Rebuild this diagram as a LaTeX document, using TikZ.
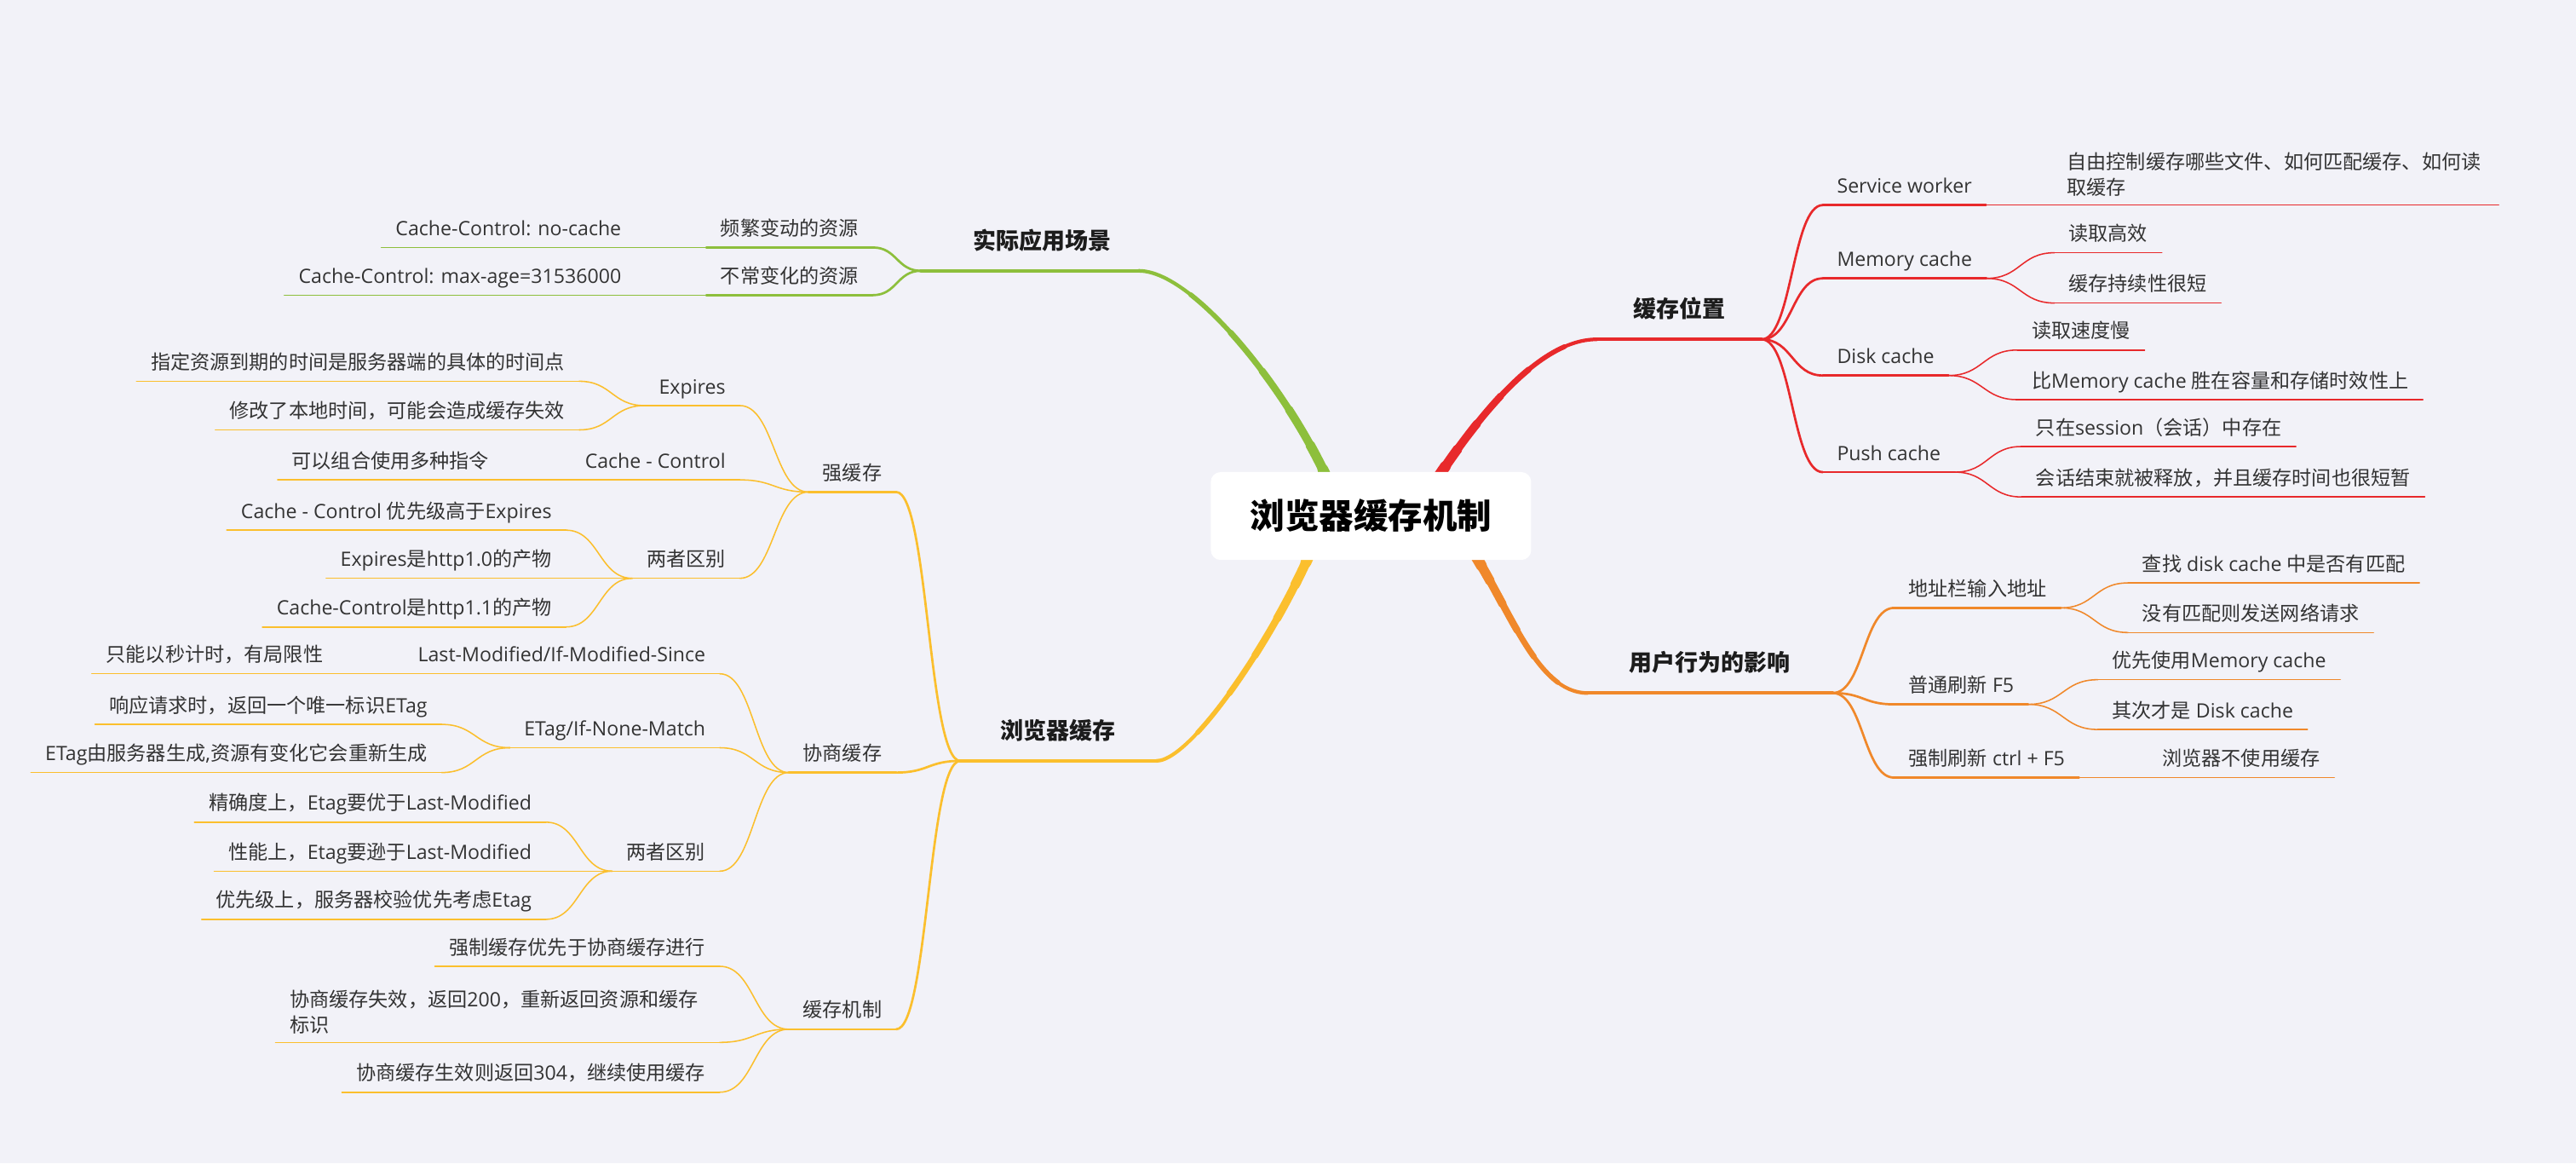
\documentclass[tikz,border=0pt]{standalone}
\usepackage{fontspec}
\setmainfont{Noto Sans CJK SC}
\newfontfamily\lat{Open Sans}
\newcommand\la[1]{{\lat #1}}
\usetikzlibrary{calc}
\definecolor{bgc}{HTML}{F2F2F8}
\definecolor{redc}{HTML}{E8292B}
\definecolor{orac}{HTML}{F0882A}
\definecolor{yelc}{HTML}{FBBF2D}
\definecolor{grnc}{HTML}{8DBF3C}
\definecolor{txt}{HTML}{333333}
\definecolor{maintxt}{HTML}{1C1C1C}
\begin{document}
\begin{tikzpicture}[x=1pt,y=-1pt,
 base/.style={inner xsep=8.5pt, inner ysep=4pt, text height=9pt, text depth=3pt, text=txt, font=\fontsize{12}{15.5}\selectfont},
 rn/.style={base, anchor=south west},
 ln/.style={base, anchor=south east},
 two/.style={text height=, text depth=, inner ysep=5pt, align=left, text width=#1},
 topic/.style={anchor=south, inner xsep=0pt, inner ysep=10pt, text height=11pt, text depth=3pt, text=maintxt, font=\bfseries\fontsize{14}{17}\selectfont},
 sc/.style={to path={.. controls ($(\tikztostart)!0.5!(\tikztostart-|\tikztotarget)$) and ($(\tikztotarget)!0.5!(\tikztotarget-|\tikztostart)$) .. (\tikztotarget) \tikztonodes}},
 lv1/.style={line width=2.2pt, line cap=round},
 lv2/.style={line width=1.4pt, line cap=round},
 lv3/.style={line width=0.8pt, line cap=round},
 taper/.style n args={7}{draw=#1, line width=2.2pt, line cap=round,
   postaction={draw=#1, line width=2.9pt, line cap=round, dash pattern=on #7pt off 3000pt},
   postaction={draw=#1, line width=3.6pt, line cap=round, dash pattern=on #6pt off 3000pt},
   postaction={draw=#1, line width=4.3pt, line cap=round, dash pattern=on #5pt off 3000pt},
   postaction={draw=#1, line width=5pt, line cap=round, dash pattern=on #4pt off 3000pt},
   postaction={draw=#1, line width=5.8pt, line cap=round, dash pattern=on #3pt off 3000pt},
   postaction={draw=#1, line width=6.6pt, line cap=round, dash pattern=on #2pt off 3000pt}}
]
\fill[bgc] (0,0) rectangle (1568,708);
\useasboundingbox (0,0) rectangle (1568,708);

% ---------- main topics ----------
\node[topic, minimum width=100pt] (R0) at (1022,206.5) {缓存位置};
\node[topic, minimum width=148.8pt] (O0) at (1040.9,421.7) {用户行为的影响};
\node[topic, minimum width=132.2pt] (G0) at (626.9,164.8) {\hspace{15pt}实际应用场景};
\node[topic, minimum width=119pt] (Y0) at (644.2,463) {浏览器缓存};

% ---------- red: 缓存位置 ----------
\node[rn] (R1) at (1109.5,124.8) {\la{Service worker}};
\node[rn, two=254pt] (R1a) at (1249.5,124.8) {自由控制缓存哪些文件、如何匹配缓存、如何读\\取缓存};
\node[rn] (R2) at (1109.5,169.4) {\la{Memory cache}};
\node[rn] (R2a) at (1250.5,153.8) {读取高效};
\node[rn] (R2b) at (1250.5,184.4) {缓存持续性很短};
\node[rn] (R3) at (1109.5,228.5) {\la{Disk cache}};
\node[rn] (R3a) at (1228,213) {读取速度慢};
\node[rn] (R3b) at (1228,243.2) {比\la{Memory cache }胜在容量和存储时效性上};
\node[rn] (R4) at (1109.5,287.3) {\la{Push cache}};
\node[rn] (R4a) at (1230.5,271.7) {只在\la{session}（会话）中存在};
\node[rn] (R4b) at (1230.5,302.4) {会话结束就被释放，并且缓存时间也很短暂};

% ---------- orange: 用户行为的影响 ----------
\node[rn] (O1) at (1153,369.9) {地址栏输入地址};
\node[rn] (O1a) at (1295.3,354.7) {查找\la{ disk cache }中是否有匹配};
\node[rn] (O1b) at (1295.3,384.9) {没有匹配则发送网络请求};
\node[rn] (O2) at (1153,428.6) {普通刷新\la{ F5}};
\node[rn] (O2a) at (1276.9,413.6) {优先使用\la{Memory cache}};
\node[rn] (O2b) at (1276.9,443.9) {其次才是\la{ Disk cache}};
\node[rn] (O3) at (1153,473.2) {强制刷新\la{ ctrl + F5}};
\node[rn] (O3a) at (1307.5,473.2) {浏览器不使用缓存};

% ---------- green: 实际应用场景 ----------
\node[ln] (G1) at (531.3,150.6) {频繁变动的资源};
\node[ln] (G1a) at (386.8,150.6) {\la{Cache-Control: no-cache}};
\node[ln] (G2) at (531.3,179.6) {不常变化的资源};
\node[ln] (G2a) at (386.8,179.6) {\la{Cache-Control: max-age=31536000}};

% ---------- yellow: 浏览器缓存 ----------
\node[ln] (Y1) at (545.5,299.4) {强缓存};
\node[ln] (Y1a) at (450.3,246.8) {\la{Expires}};
\node[ln] (Y1a1) at (352.5,232) {指定资源到期的时间是服务器端的具体的时间点};
\node[ln] (Y1a2) at (352.5,261.6) {修改了本地时间，可能会造成缓存失效};
\node[ln] (Y1b) at (450.3,292) {\la{Cache - Control}};
\node[ln] (Y1b1) at (306.4,292) {可以组合使用多种指令};
\node[ln] (Y1c) at (450.3,351.9) {两者区别};
\node[ln] (Y1c1) at (344.5,322.6) {\la{Cache - Control }优先级高于\la{Expires}};
\node[ln] (Y1c2) at (344.5,351.9) {\la{Expires}是\la{http1.0}的产物};
\node[ln] (Y1c3) at (344.5,381.5) {\la{Cache-Control}是\la{http1.1}的产物};

\node[ln] (Y2) at (545.5,470.1) {协商缓存};
\node[ln] (Y2a) at (438.1,410) {\la{Last-Modified/If-Modified-Since}};
\node[ln] (Y2a1) at (205.3,410) {只能以秒计时，有局限性};
\node[ln] (Y2b) at (438.1,455) {\la{ETag/If-None-Match}};
\node[ln] (Y2b1) at (268.8,440.8) {响应请求时，返回一个唯一标识\la{ETag}};
\node[ln] (Y2b2) at (268.8,470.1) {\la{ETag}由服务器生成\la{,}资源有变化它会重新生成};
\node[ln] (Y2c) at (438.1,530.1) {两者区别};
\node[ln] (Y2c1) at (332.3,500.3) {精确度上，\la{Etag}要优于\la{Last-Modified}};
\node[ln] (Y2c2) at (332.3,530.1) {性能上，\la{Etag}要逊于\la{Last-Modified}};
\node[ln] (Y2c3) at (332.3,559.4) {优先级上，服务器校验优先考虑\la{Etag}};

\node[ln] (Y3) at (545.5,626.3) {缓存机制};
\node[ln] (Y3a) at (438.1,588) {强制缓存优先于协商缓存进行};
\node[ln, two=253pt] (Y3b) at (438.1,634.3) {协商缓存失效，返回\la{200}，重新返回资源和缓存\\标识};
\node[ln] (Y3c) at (438.1,664.6) {协商缓存生效则返回\la{304}，继续使用缓存};

% ---------- main branch curves (tapered) ----------
\coordinate (rS) at (850,330);
\coordinate (oS) at (865,300);
\coordinate (gS) at (820,330);
\coordinate (yS) at (810,300);
\path[taper={redc}{55}{68}{87.5}{109.6}{133}{159}] (rS) .. controls (875,290) and (925,206.5) .. (R0.south west);
\path[taper={orac}{58}{68.7}{84.7}{103}{122}{143.6}] (oS) .. controls (910,330) and (925,421.7) .. (O0.south west);
\path[taper={grnc}{47}{63.8}{89}{117.6}{147.8}{181.4}] (gS) .. controls (815,280) and (735,164.8) .. (G0.south east);
\path[taper={yelc}{45}{60.4}{83.5}{109.7}{137.4}{168.2}] (yS) .. controls (800,350) and (730,463) .. (Y0.south east);

% main underlines
\draw[redc, lv1] (R0.south west) -- (R0.south east);
\draw[orac, lv1] (O0.south west) -- (O0.south east);
\draw[grnc, lv1] (G0.south west) -- (G0.south east);
\draw[yelc, lv1] (Y0.south west) -- (Y0.south east);

% ---------- right side connectors ----------
\foreach \b in {R1,R2,R3,R4} {
  \draw[redc, lv2] (R0.south east) to[sc] (\b.south west);
  \draw[redc, lv2] (\b.south west) -- (\b.south east);
}
\foreach \a/\b in {R1/R1a,R2/R2a,R2/R2b,R3/R3a,R3/R3b,R4/R4a,R4/R4b} {
  \draw[redc, lv3] (\a.south east) to[sc] (\b.south west);
  \draw[redc, lv3] (\b.south west) -- (\b.south east);
}
\foreach \b in {O1,O2,O3} {
  \draw[orac, lv2] (O0.south east) to[sc] (\b.south west);
  \draw[orac, lv2] (\b.south west) -- (\b.south east);
}
\foreach \a/\b in {O1/O1a,O1/O1b,O2/O2a,O2/O2b,O3/O3a} {
  \draw[orac, lv3] (\a.south east) to[sc] (\b.south west);
  \draw[orac, lv3] (\b.south west) -- (\b.south east);
}

% ---------- left side connectors ----------
\foreach \b in {G1,G2} {
  \draw[grnc, lv2] (G0.south west) to[sc] (\b.south east);
  \draw[grnc, lv2] (\b.south east) -- (\b.south west);
}
\foreach \a/\b in {G1/G1a,G2/G2a} {
  \draw[grnc, lv3] (\a.south west) to[sc] (\b.south east);
  \draw[grnc, lv3] (\b.south east) -- (\b.south west);
}
\foreach \b in {Y1,Y2,Y3} {
  \draw[yelc, lv2] (Y0.south west) to[sc] (\b.south east);
  \draw[yelc, lv2] (\b.south east) -- (\b.south west);
}
\foreach \a/\b in {Y1/Y1a,Y1/Y1b,Y1/Y1c,Y1a/Y1a1,Y1a/Y1a2,Y1b/Y1b1,Y1c/Y1c1,Y1c/Y1c2,Y1c/Y1c3,
                   Y2/Y2a,Y2/Y2b,Y2/Y2c,Y2a/Y2a1,Y2b/Y2b1,Y2b/Y2b2,Y2c/Y2c1,Y2c/Y2c2,Y2c/Y2c3,
                   Y3/Y3a,Y3/Y3b,Y3/Y3c} {
  \draw[yelc, lv3] (\a.south west) to[sc] (\b.south east);
  \draw[yelc, lv3] (\b.south east) -- (\b.south west);
}

% ---------- central topic ----------
\node[fill=white, rounded corners=6pt, minimum width=195pt, minimum height=53.5pt, inner sep=0pt,
      font=\bfseries\fontsize{21}{25}\selectfont, text=black] (c) at (834.5,314) {浏览器缓存机制};
\end{tikzpicture}
\end{document}
